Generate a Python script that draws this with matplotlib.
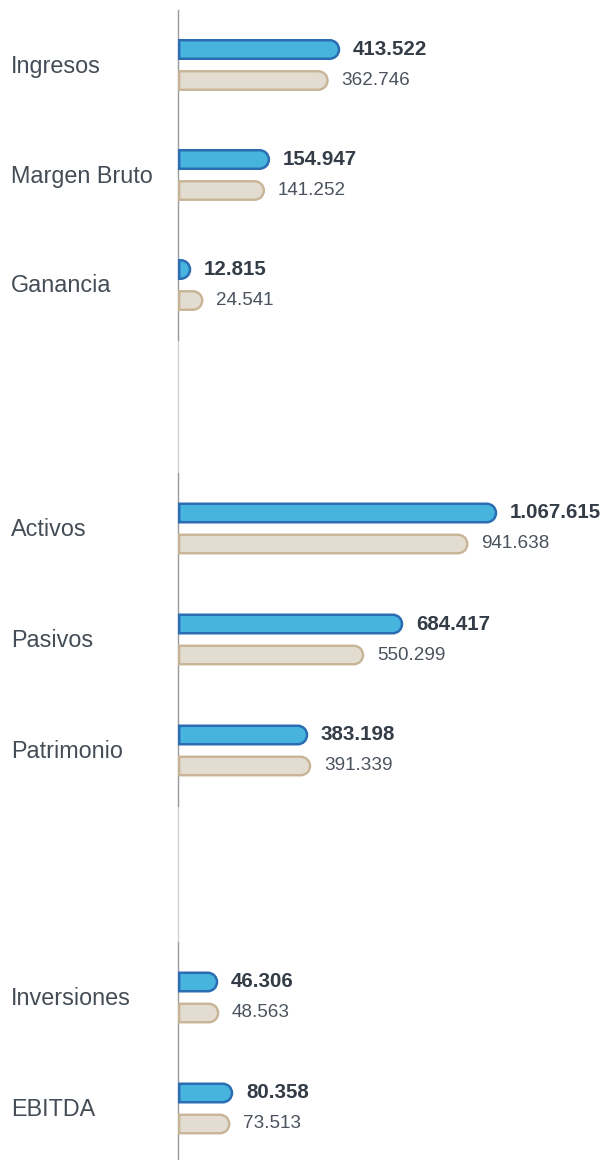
import matplotlib.pyplot as plt
from matplotlib.path import Path
from matplotlib.patches import PathPatch
from matplotlib.lines import Line2D
from matplotlib.transforms import IdentityTransform
import numpy as np

# data (three groups, current vs previous period)
groups = [
    ["Ingresos", "Margen Bruto", "Ganancia"],
    ["Activos", "Pasivos", "Patrimonio"],
    ["Inversiones", "EBITDA"],
]
actual = [
    [413522, 154947, 12815],
    [1067615, 684417, 383198],
    [46306, 80358],
]
anterior = [
    [362746, 141252, 24541],
    [941638, 550299, 391339],
    [48563, 73513],
]

# per-panel axis limits of the sqrt scale
limits = [(4970, 2.5476e6), (113030, 1.6297e6), (1414, 3.965e6)]

W, H = 607, 1160
DPI = 100
blue_fc, blue_ec = "#46b4dc", "#2b6db3"
beige_fc, beige_ec = "#e3dcd0", "#c8b496"
txt_cat = "#444c56"
txt_bold = "#343d47"
txt_reg = "#4b535e"

plt.rcParams['font.family'] = ['Liberation Sans', 'DejaVu Sans']

fig = plt.figure(figsize=(W / DPI, H / DPI), dpi=DPI)

# faint connecting line behind the panels
fig.add_artist(Line2D([178 / W, 178 / W], [0, 1 - 10 / H], color="#d2d2d2",
                      lw=1.0, zorder=0))

# panel vertical extents in pixels (top, bottom)
extents = [(10, 340), (473, 806), (942, 1164)]
ax_left = 178 / W
ax_w = 429 / W


def fmt(v):
    return f"{v:,}".replace(",", ".")


def rounded_bar(ax, value, ycat, h, fc, ec, lw):
    xlo = ax.get_xlim()[0]
    x0, yc = ax.transData.transform((xlo, ycat))
    x1, _ = ax.transData.transform((value, ycat))
    x0 += 1.2
    r = h / 2
    rx = min(r, max(x1 - x0, 1))
    cx = x1 - rx
    arc = Path.arc(-90, 90)
    av = arc.vertices * [rx, r] + [cx, yc]
    verts = [(x0, yc - r), (cx, yc - r)] + [tuple(p) for p in av[1:]] + \
            [(x0, yc + r), (x0, yc - r)]
    codes = [Path.MOVETO, Path.LINETO] + list(arc.codes[1:]) + \
            [Path.LINETO, Path.CLOSEPOLY]
    patch = PathPatch(Path(verts, codes), facecolor=fc, edgecolor=ec, lw=lw,
                      transform=IdentityTransform(), zorder=3)
    fig.add_artist(patch)


def fwd(x):
    return np.sqrt(np.clip(x, 0, None))


def inv(x):
    return np.square(x)


for names, cur, prev, lim, (top, bot) in zip(groups, actual, anterior, limits, extents):
    ax = fig.add_axes([ax_left, 1 - bot / H, ax_w, (bot - top) / H])
    ax.patch.set_visible(False)
    ax.set_xscale('function', functions=(fwd, inv))
    ax.set_xlim(*lim)
    n = len(names)
    ax.set_ylim(n - 0.5, -0.5)
    for s in ["top", "right", "bottom"]:
        ax.spines[s].set_visible(False)
    ax.spines["left"].set_color("#9a9a9a")
    ax.spines["left"].set_linewidth(0.9)
    ax.set_xticks([])
    ax.set_yticks([])

    band = (bot - top) / n
    off = 15.5 / band
    for i, name in enumerate(names):
        fig.text(11 / W, 1 - (top + band * (i + 0.5) + 1) / H, name,
                 fontsize=16.8, color=txt_cat, va="center", ha="left")
        rounded_bar(ax, cur[i], i - off, 18.5, blue_fc, blue_ec, 1.8)
        rounded_bar(ax, prev[i], i + off, 18.5, beige_fc, beige_ec, 1.7)
        ax.annotate(fmt(cur[i]), (cur[i], i - off), xytext=(10, 0),
                    textcoords="offset points", va="center", ha="left",
                    fontsize=14.8, fontweight="bold", color=txt_bold)
        ax.annotate(fmt(prev[i]), (prev[i], i + off), xytext=(10, 0),
                    textcoords="offset points", va="center", ha="left",
                    fontsize=13.6, color=txt_reg)

fig.savefig("out.png", dpi=DPI)
